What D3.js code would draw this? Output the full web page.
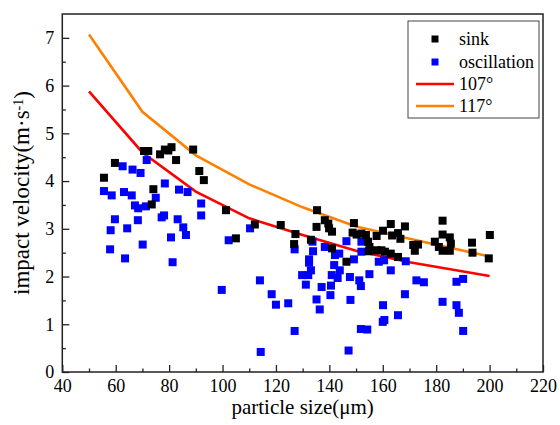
<!DOCTYPE html>
<html>
<head>
<meta charset="utf-8">
<script src="https://cdn.jsdelivr.net/npm/d3@7"></script>
<style>
  html, body { margin: 0; padding: 0; background: #fff; }
  svg { display: block; }
  svg text { font-family: "Times New Roman", "Liberation Serif", "DejaVu Serif", serif !important; fill: #000; }
</style>
</head>
<body>
<svg id="chart" width="560" height="425"></svg>
<script>
// ---------- data ----------
const xTicks = [40, 60, 80, 100, 120, 140, 160, 180, 200, 220];
const xMinorTicks = [50, 70, 90, 110, 130, 150, 170, 190, 210];
const yTicks = [0, 1, 2, 3, 4, 5, 6, 7];
const yMinorTicks = [0.5, 1.5, 2.5, 3.5, 4.5, 5.5, 6.5];

const sinkX = [55.6, 59.7, 70.6, 72.2, 76.6, 78.4, 80.9, 79.7, 82.6, 89.0, 91.3, 93.0, 74.1, 73.5,
  101.3, 105.0, 112.1, 121.8, 127.3, 126.8, 135.4, 135.2, 138.3, 139.6, 139.9, 141.0, 133.1, 141.0,
  146.4, 149.2, 148.7, 150.2, 152.0, 153.7, 154.5, 155.0, 154.8, 157.7, 157.7, 159.5, 160.8, 163.0,
  160.1, 165.7, 163.5, 163.0, 165.7, 168.3, 166.6, 171.4, 172.0, 173.2, 179.5, 181.0, 182.4, 182.4,
  182.4, 185.1, 185.5, 185.1, 193.4, 193.6, 200.1, 199.7];
const sinkY = [4.07, 4.38, 4.63, 4.63, 4.56, 4.66, 4.71, 4.64, 4.44, 4.66, 4.21, 4.02, 3.83, 3.51,
  3.39, 2.80, 3.09, 3.08, 2.89, 2.68, 3.39, 3.04, 3.18, 3.11, 3.01, 2.94, 2.77, 2.59,
  2.31, 3.12, 2.92, 2.88, 2.90, 2.87, 2.73, 2.62, 2.53, 2.85, 2.55, 2.55, 2.52, 3.10,
  2.96, 2.91, 2.86, 2.48, 2.41, 3.05, 2.79, 2.66, 2.54, 2.67, 2.73, 2.62, 3.17, 2.88,
  2.54, 2.82, 2.69, 2.54, 2.71, 2.50, 2.87, 2.38];

const oscX = [71.6, 62.6, 66.3, 69.3, 55.6, 58.5, 63.1, 66.0, 78.4, 83.7, 86.9, 75.0, 67.2, 68.4,
  71.3, 92.0, 92.0, 59.7, 77.2, 78.1, 83.2, 85.3, 86.3, 58.1, 64.3, 68.3, 80.7, 70.1, 57.9, 63.5,
  81.3, 102.3, 99.7, 110.3, 114.0, 118.4, 120.0, 124.6, 127.0, 114.3, 127.0, 133.7, 133.9, 132.4,
  132.4, 133.1, 129.8, 132.1, 131.2, 137.1, 140.6, 140.4, 135.2, 136.4, 138.3, 142.1, 143.7, 141.8,
  143.9, 140.9, 143.1, 146.4, 149.2, 147.7, 151.2, 151.8, 147.9, 151.8, 154.2, 147.2, 152.0, 152.0,
  155.0, 158.5, 160.5, 163.0, 168.6, 172.6, 175.4, 168.3, 160.1, 165.7, 160.0, 160.6, 187.6, 190.1,
  182.4, 187.6, 188.5, 190.1];
const oscY = [4.44, 4.31, 4.24, 4.17, 3.79, 3.70, 3.77, 3.70, 3.95, 3.82, 3.77, 3.65, 3.49, 3.43,
  3.47, 3.53, 3.28, 3.20, 3.24, 3.28, 3.20, 3.03, 2.87, 2.97, 3.01, 3.18, 2.82, 2.67, 2.57, 2.38,
  2.30, 2.76, 1.72, 3.01, 1.92, 1.63, 1.41, 1.44, 0.86, 0.42, 2.57, 2.73, 2.53, 2.36,
  2.29, 2.13, 2.03, 2.03, 1.83, 1.78, 1.81, 1.61, 1.52, 1.31, 2.62, 2.45, 2.48, 2.24,
  2.13, 2.03, 1.97, 2.74, 2.36, 1.99, 1.92, 1.80, 1.51, 0.90, 0.89, 0.45, 2.73, 2.52,
  2.05, 2.31, 2.34, 2.13, 2.32, 1.92, 1.88, 1.63, 1.40, 1.19, 1.05, 1.09, 1.89, 1.95,
  1.47, 1.40, 1.24, 0.86];

const curveX = [50, 70, 90, 110, 130, 150, 170, 200];
const curve107 = [5.88, 4.60, 3.78, 3.22, 2.87, 2.54, 2.30, 2.01];
const curve117 = [7.07, 5.45, 4.54, 3.93, 3.45, 3.05, 2.79, 2.42];

const xTitle = "particle size(\u03BCm)";
const legendLabels = ["sink", "oscillation", "107\u00B0", "117\u00B0"];

// ---------- drawing ----------
(function () {
const svg = d3.select("#chart");
const pL = 62.3, pR = 543, pT = 14, pB = 372;
const x = d3.scaleLinear().domain([40, 220]).range([pL, pR]);
const y = d3.scaleLinear().domain([0, 7.5]).range([pB, pT]);
const axisColor = "#222";
const serif = "'Times New Roman', 'Liberation Serif', 'DejaVu Serif', serif";

// curves
const line = d3.line().x(d => x(d[0])).y(d => y(d[1]));
svg.append("path").datum(d3.zip(curveX, curve107))
  .attr("d", line).attr("fill", "none").attr("stroke", "#ff0000").attr("stroke-width", 2.6);
svg.append("path").datum(d3.zip(curveX, curve117))
  .attr("d", line).attr("fill", "none").attr("stroke", "#ff8000").attr("stroke-width", 2.6);

// points
const sz = 8;
svg.append("g").selectAll("rect").data(d3.zip(oscX, oscY)).join("rect")
  .attr("x", d => x(d[0]) - sz / 2).attr("y", d => y(d[1]) - sz / 2)
  .attr("width", sz).attr("height", sz).attr("fill", "#0000ff");
svg.append("g").selectAll("rect").data(d3.zip(sinkX, sinkY)).join("rect")
  .attr("x", d => x(d[0]) - sz / 2).attr("y", d => y(d[1]) - sz / 2)
  .attr("width", sz).attr("height", sz).attr("fill", "#000000");

// axes
function styleAxis(g) {
  g.attr("font-family", serif).attr("font-size", 18);
  g.selectAll("line").attr("stroke", axisColor).attr("stroke-width", 1.3);
  g.select(".domain").remove();
  g.selectAll("text").attr("font-family", serif).attr("font-size", 18).attr("fill", "#000");
}
svg.append("g").attr("transform", `translate(0,${pB})`)
  .call(d3.axisBottom(x).tickValues(xTicks).tickFormat(d3.format("d")).tickSizeInner(-7).tickSizeOuter(0).tickPadding(7))
  .call(styleAxis);
svg.append("g").attr("transform", `translate(0,${pB})`)
  .call(d3.axisBottom(x).tickValues(xMinorTicks).tickFormat("").tickSizeInner(-3.5).tickSizeOuter(0))
  .call(styleAxis);
svg.append("g").attr("transform", `translate(${pL},0)`)
  .call(d3.axisLeft(y).tickValues(yTicks).tickFormat(d3.format("d")).tickSizeInner(-7).tickSizeOuter(0).tickPadding(8))
  .call(styleAxis);
svg.append("g").attr("transform", `translate(${pL},0)`)
  .call(d3.axisLeft(y).tickValues(yMinorTicks).tickFormat("").tickSizeInner(-3.5).tickSizeOuter(0))
  .call(styleAxis);

// frame
svg.append("rect").attr("x", pL).attr("y", pT).attr("width", pR - pL).attr("height", pB - pT)
  .attr("fill", "none").attr("stroke", axisColor).attr("stroke-width", 1.5);

// axis titles
svg.append("text").attr("x", (pL + pR) / 2).attr("y", 414).attr("text-anchor", "middle")
  .attr("font-family", serif).attr("font-size", 21).text(xTitle);
const yt = svg.append("text").attr("transform", `translate(29,${(pT + pB) / 2}) rotate(-90)`)
  .attr("text-anchor", "middle").attr("font-family", serif).attr("font-size", 23);
yt.append("tspan").text("impact velocity(m\u00B7s");
yt.append("tspan").attr("dy", "-0.45em").attr("font-size", 14).text("-1");
yt.append("tspan").attr("dy", "0.3em").text(")");

// legend
const lg = svg.append("g");
lg.append("rect").attr("x", 408).attr("y", 21).attr("width", 131).attr("height", 97)
  .attr("fill", "#fff").attr("stroke", "#444").attr("stroke-width", 1);
const rowY = [39, 62, 84, 106];
lg.append("rect").attr("x", 435 - 3.5).attr("y", rowY[0] - 3.5).attr("width", 7).attr("height", 7).attr("fill", "#000");
lg.append("rect").attr("x", 435 - 3.5).attr("y", rowY[1] - 3.5).attr("width", 7).attr("height", 7).attr("fill", "#0000ff");
lg.append("line").attr("x1", 416).attr("x2", 454).attr("y1", rowY[2]).attr("y2", rowY[2]).attr("stroke", "#ff0000").attr("stroke-width", 2.4);
lg.append("line").attr("x1", 416).attr("x2", 454).attr("y1", rowY[3]).attr("y2", rowY[3]).attr("stroke", "#ff8000").attr("stroke-width", 2.4);
lg.selectAll("text.lab").data(legendLabels).join("text").attr("class", "lab")
  .attr("x", 459).attr("y", (d, i) => rowY[i]).attr("dy", "0.33em")
  .attr("font-family", serif).attr("font-size", 18).text(d => d);
})();
</script>
</body>
</html>
